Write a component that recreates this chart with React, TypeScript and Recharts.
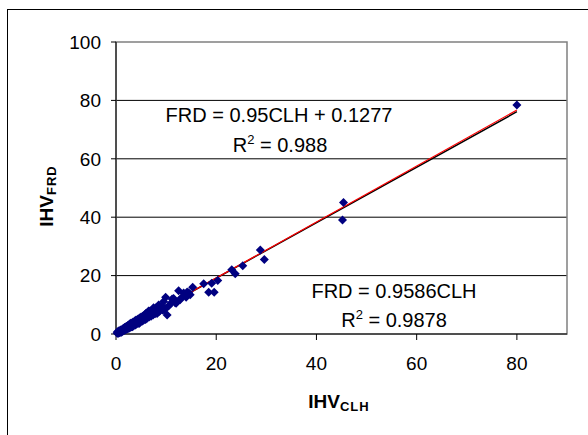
import {
  ScatterChart,
  Scatter,
  XAxis,
  YAxis,
  CartesianGrid,
  ReferenceLine,
  ReferenceArea,
} from "recharts";

// IHV measured with CLH (x) vs FRD (y)
const clhValues = [
  0.2, 0.3, 0.4, 0.5, 0.6, 0.7, 0.8, 0.9, 1.0, 1.1, 1.2, 1.3, 1.4, 1.5, 1.6,
  1.7, 1.8, 1.9, 2.0, 2.1, 2.2, 2.3, 2.4, 2.5, 2.6, 2.8, 2.9, 3.0, 3.1, 3.2,
  3.4, 3.5, 3.6, 3.8, 3.9, 4.0, 4.2, 4.4, 4.5, 4.7, 4.8, 5.0, 5.2, 5.4, 5.5,
  5.7, 5.9, 6.0, 6.2, 6.4, 6.6, 6.8, 7.0, 7.2, 7.4, 7.6, 7.8, 8.0, 8.3, 8.5,
  8.7, 9.0, 9.3, 9.5, 9.8, 9.9, 10.2, 10.5, 11.0, 11.5, 11.8, 12.5, 12.8,
  13.5, 14.0, 14.2, 14.8, 15.3, 6.5, 7.5, 8.2, 9.6, 11.2, 12.0, 13.0, 14.5,
  3.3, 4.6, 5.3, 2.7, 17.5, 18.5, 19.1, 19.6, 20.3, 23.1, 23.8, 25.3, 28.8,
  29.6, 45.2, 45.4, 80.0,
];
const frdValues = [
  0.3, 0.8, 0.2, 0.6, 1.1, 0.4, 0.9, 1.4, 0.5, 1.3, 0.8, 1.7, 1.0, 1.9, 1.2,
  2.2, 1.4, 2.4, 1.5, 2.6, 1.7, 2.8, 1.9, 3.1, 2.0, 3.5, 2.3, 3.8, 2.5, 3.6,
  4.1, 2.8, 3.9, 4.5, 3.1, 4.8, 3.6, 5.1, 3.8, 5.5, 4.0, 5.8, 4.4, 6.2, 4.7,
  6.6, 5.0, 7.1, 5.4, 7.4, 5.8, 7.9, 6.1, 8.0, 6.5, 8.4, 6.9, 9.0, 7.4, 9.9,
  7.8, 9.5, 8.2, 11.1, 8.8, 12.6, 6.5, 9.6, 10.6, 12.2, 10.7, 14.8, 11.7,
  14.0, 12.6, 14.4, 13.4, 16.0, 7.9, 9.0, 7.0, 8.2, 12.0, 10.5, 12.3, 14.1,
  2.5, 3.6, 6.0, 2.9, 17.2, 14.3, 17.4, 14.3, 18.3, 22.0, 20.6, 23.4, 28.8,
  25.5, 39.0, 45.0, 78.4,
];

const xTicks = [0, 20, 40, 60, 80];
const yTicks = [0, 20, 40, 60, 80, 100];
const gridValues = [20, 40, 60, 80];

// trend lines
const fitRange = [0.5, 80];
const linearFit = { slope: 0.95, intercept: 0.1277 };
const originFit = { slope: 0.9586, intercept: 0 };

const points = clhValues.map((x, i) => ({ clh: x, frd: frdValues[i] }));

const segment = (fit: { slope: number; intercept: number }) =>
  fitRange.map((x) => ({ x, y: fit.slope * x + fit.intercept }));

const Diamond = (props: any) => {
  const { cx, cy } = props;
  const r = 4.5;
  return (
    <polygon
      points={`${cx},${cy - r} ${cx + r},${cy} ${cx},${cy + r} ${cx - r},${cy}`}
      fill="#000080"
    />
  );
};

const font = "'Liberation Sans', Arial, sans-serif";

const App = () => {
  return (
    <div
      style={{
        position: "absolute",
        left: 0,
        top: 0,
        width: 588,
        height: 435,
        overflow: "hidden",
        background: "#fff",
        fontFamily: font,
      }}
    >
      <div
        style={{
          position: "absolute",
          left: 7,
          top: 9,
          width: 700,
          height: 600,
          border: "1.5px solid #000",
        }}
      />
      <div style={{ position: "absolute", left: 0, top: 0 }}>
        <ScatterChart
          width={588}
          height={435}
          margin={{ top: 42, right: 21, bottom: 71, left: 66 }}
        >
          <CartesianGrid
            horizontalValues={gridValues}
            vertical={false}
            stroke="#000"
            strokeOpacity={1}
          />
          <ReferenceArea
            x1={0}
            x2={90}
            y1={0}
            y2={100}
            fill="none"
            fillOpacity={0}
            stroke="#808080"
            strokeWidth={1.5}
          />
          <XAxis
            type="number"
            dataKey="clh"
            domain={[0, 90]}
            ticks={xTicks}
            height={30}
            tickSize={6}
            tickMargin={17}
            stroke="#000"
            tick={{ fill: "#000", fontSize: 19, fontFamily: font }}
          />
          <YAxis
            type="number"
            dataKey="frd"
            domain={[0, 100]}
            ticks={yTicks}
            width={50}
            tickSize={5}
            tickMargin={10}
            stroke="#000"
            tick={{ fill: "#000", fontSize: 19, fontFamily: font }}
          />
          <Scatter data={points} shape={Diamond} isAnimationActive={false} />
          <ReferenceLine
            segment={segment(linearFit)}
            stroke="#000"
            strokeWidth={1.5}
          />
          <ReferenceLine
            segment={segment(originFit)}
            stroke="#ff0000"
            strokeWidth={1.2}
          />
        </ScatterChart>
      </div>
      <svg
        width={588}
        height={435}
        style={{ position: "absolute", left: 0, top: 0, pointerEvents: "none" }}
        fontFamily={font}
      >
        <g fontSize={20} fill="#000" textAnchor="middle">
          <text x={279} y={122}>FRD = 0.95CLH + 0.1277</text>
          <text x={280} y={152}>
            R<tspan dy={-8} fontSize={13}>2</tspan>
            <tspan dy={8}> = 0.988</tspan>
          </text>
          <text x={394} y={298}>FRD = 0.9586CLH</text>
          <text x={394} y={327}>
            R<tspan dy={-8} fontSize={13}>2</tspan>
            <tspan dy={8}> = 0.9878</tspan>
          </text>
        </g>
        <text
          x={339}
          y={408}
          textAnchor="middle"
          fontWeight="bold"
          fontSize={19}
        >
          IHV
          <tspan dy={3} fontSize={13} letterSpacing={1}>
            CLH
          </tspan>
        </text>
        <text
          x={53}
          y={196}
          transform="rotate(-90 53 196)"
          textAnchor="middle"
          fontWeight="bold"
          fontSize={19}
        >
          IHV
          <tspan dy={3} fontSize={13} letterSpacing={1}>
            FRD
          </tspan>
        </text>
      </svg>
    </div>
  );
};

export default App;
